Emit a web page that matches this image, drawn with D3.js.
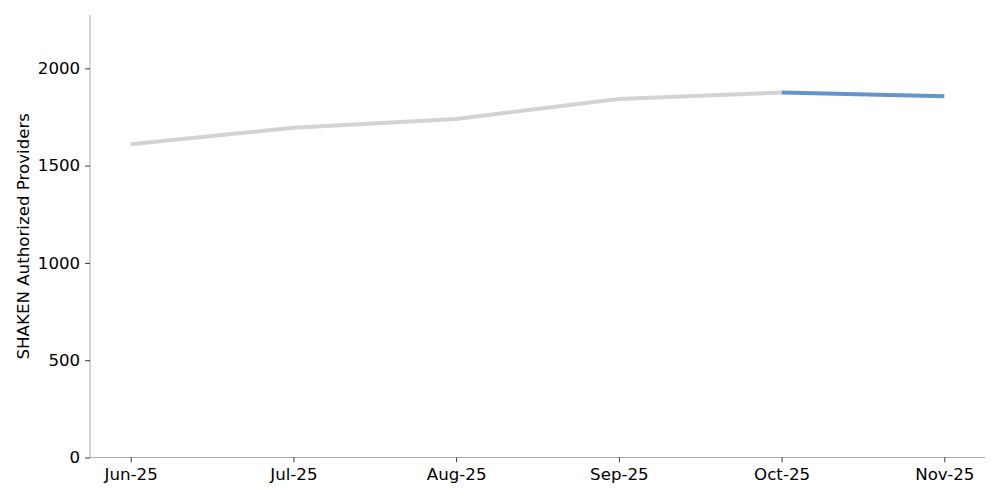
<!DOCTYPE html>
<html><head><meta charset="utf-8">
<script src="https://cdn.jsdelivr.net/npm/d3@7"></script>
<style>body{margin:0;background:#fff}svg{display:block}text{font-family:"DejaVu Sans",sans-serif}</style>
</head><body><svg id="c" width="1000" height="500"></svg>
<script>
const categories = ["Jun-25","Jul-25","Aug-25","Sep-25","Oct-25","Nov-25"];
const providers = [1610, 1695, 1740, 1842, 1876, 1857];
const yTicks = [0, 500, 1000, 1500, 2000];
const yLabel = "SHAKEN Authorized Providers";

(function(){
const svg = d3.select("#c");
const mLeft = 90, mRight = 985, mTop = 15, mBottom = 457.5;
const x = d3.scaleLinear().domain([-0.25, categories.length - 0.75]).range([mLeft, mRight]);
const y = d3.scaleLinear().domain([0, 2274]).range([mBottom, mTop]);

const pts = providers.map((v, i) => ({i, v}));
const line = d3.line().x(d => x(d.i)).y(d => y(d.v));

svg.append("path").datum(pts.slice(0, 5)).attr("d", line)
  .attr("fill", "none").attr("stroke", "#d3d3d3").attr("stroke-width", 4).attr("stroke-linejoin","round");
svg.append("path").datum(pts.slice(4)).attr("d", line)
  .attr("fill", "none").attr("stroke", "#6494cc").attr("stroke-width", 4);

const xAxis = svg.append("g").attr("transform", `translate(0,${mBottom})`)
  .call(d3.axisBottom(x).tickValues(d3.range(categories.length)).tickFormat(i => categories[i]).tickSizeOuter(0).tickSize(4.9).tickPadding(5.5));
const yAxis = svg.append("g").attr("transform", `translate(${mLeft},0)`)
  .call(d3.axisLeft(y).tickValues(yTicks).tickFormat(d3.format("d")).tickSizeOuter(0).tickSize(4.9).tickPadding(4.9));
[xAxis, yAxis].forEach(g => {
  g.attr("font-size", null).attr("font-family", null);
  g.select(".domain").attr("stroke", "#aaaaaa").attr("stroke-width", 1);
  g.selectAll(".tick line").attr("stroke", "#000").attr("stroke-width", 0.8);
  g.selectAll(".tick text").style("font-size", "16.67px").attr("fill", "#000");
});
xAxis.select(".domain").attr("d", `M${mLeft},0H${mRight}`);
yAxis.select(".domain").attr("d", `M0,${mBottom}V${mTop}`);

svg.append("text").attr("transform", `translate(29,${(mTop + mBottom) / 2}) rotate(-90)`)
  .attr("text-anchor", "middle").style("font-size", "16.67px").attr("fill", "#000").text(yLabel);
})();
</script></body></html>
